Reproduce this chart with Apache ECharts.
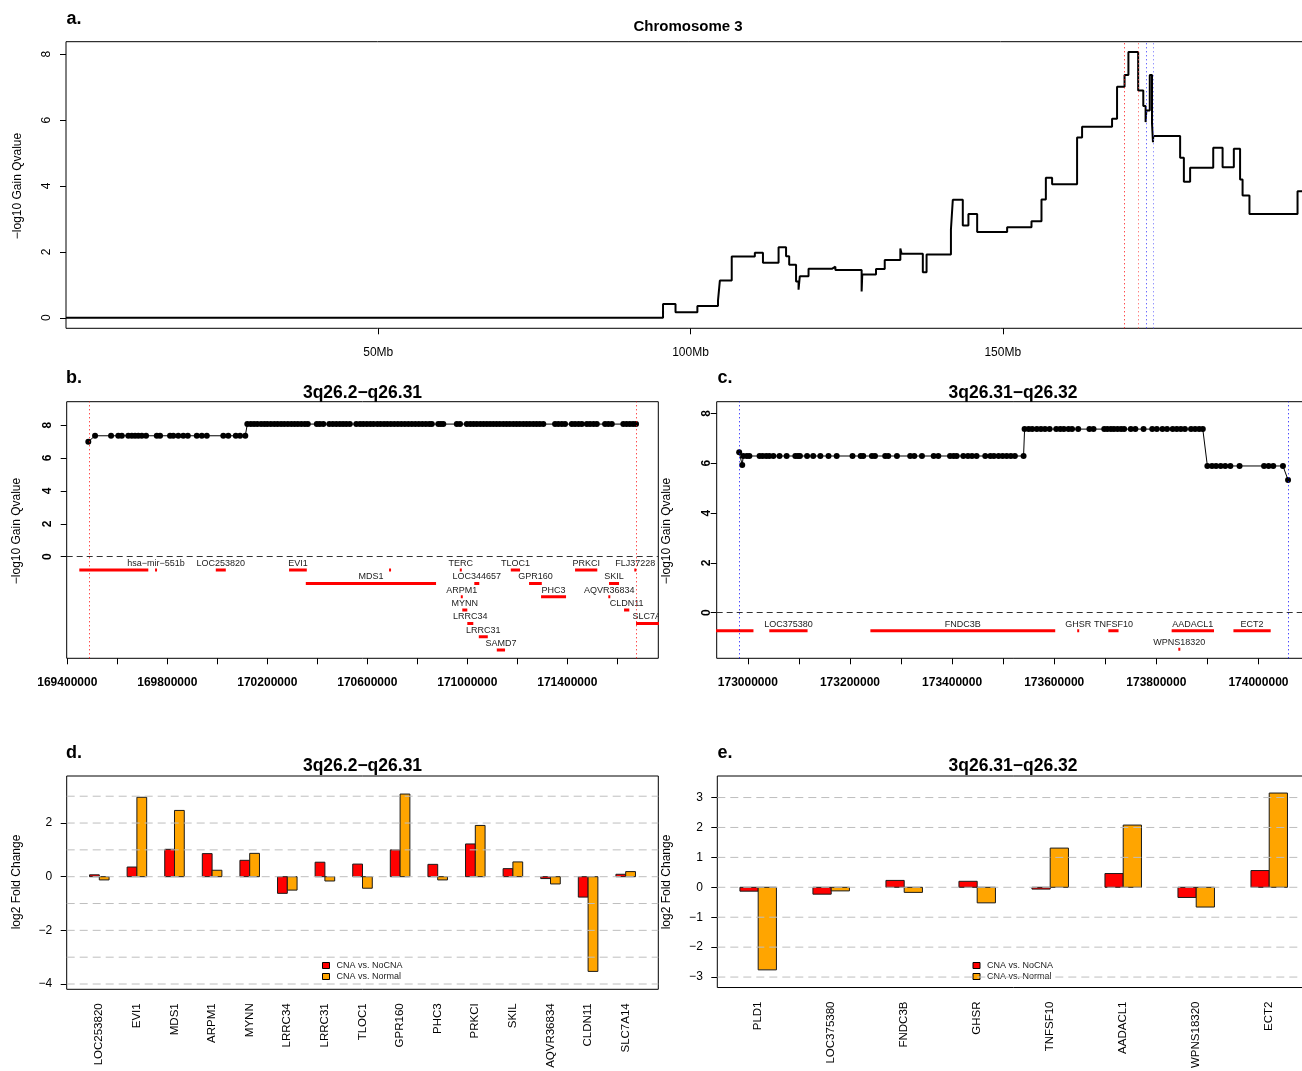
<!DOCTYPE html>
<html>
<head>
<meta charset="utf-8">
<title>Chromosome 3 gain</title>
<script src="https://cdn.jsdelivr.net/npm/echarts@6/dist/echarts.min.js"></script>
<style>
  html, body { margin: 0; padding: 0; background: #ffffff; }
  #frame { width: 1302px; height: 1071px; overflow: hidden; position: relative; }
  #main { width: 1320px; height: 1071px; position: absolute; left: 0; top: 0; }
</style>
</head>
<body>
<div id="frame"><div id="main"></div></div>
<script>
// ---------- a. whole chromosome: segment start (Mb) and -log10 gain q-value ----------
const chr3Segments = [
  [0, 0], [95.6, 0.42], [97.6, 0.17], [101.1, 0.36], [104.4, 0.52], [104.7, 1.13],
  [106.6, 1.86], [110.3, 1.97], [111.6, 1.67], [114.1, 2.14], [115.3, 1.87], [115.8, 1.61],
  [116.9, 1.10], [117.3, 0.85], [117.5, 1.26], [118.9, 1.49], [122.7, 1.55], [123.2, 1.45],
  [127.4, 0.80], [127.5, 1.31], [129.7, 1.48], [131.1, 1.75], [133.6, 2.10], [133.8, 1.94],
  [137.2, 1.38], [137.8, 1.92], [141.7, 2.68], [142.0, 3.58], [143.6, 2.80], [144.5, 3.15],
  [145.9, 2.60], [150.7, 2.75], [154.6, 2.93], [156.2, 3.59], [156.9, 4.25], [157.9, 4.05],
  [161.9, 5.47], [162.7, 5.80], [167.5, 6.04], [168.3, 7.01], [169.5, 7.37], [170.12, 8.07],
  [171.68, 6.90], [172.50, 6.43], [172.87, 5.94], [172.99, 6.29], [173.54, 7.37], [173.90, 5.89],
  [174.05, 5.33], [174.10, 5.52], [178.4, 4.86], [179.0, 4.13], [180.0, 4.55], [183.7, 5.16],
  [185.2, 4.57], [187.0, 5.13], [188.0, 4.20], [188.4, 3.71], [189.5, 3.15], [197.2, 3.84],
  [199.5, 3.84]
];
const chr3LengthMb = 199.5;
const chr3TickMb = [50, 100, 150];
const qTicks = [0, 2, 4, 6, 8];

// region bounds in kb
const regionB = [169486, 171675];
const regionC = [172983, 174058];

// ---------- b. 3q26.2-q26.31 probes: position (kb), -log10 q ----------
const probesB = [
  [169484, 6.99],
  [169511, 7.35], [169575, 7.35], [169604, 7.35], [169618, 7.35], [169644, 7.35], [169658, 7.35],
  [169671, 7.35], [169684, 7.35], [169698, 7.35], [169715, 7.35], [169758, 7.35], [169771, 7.35],
  [169811, 7.35], [169824, 7.35], [169844, 7.35], [169864, 7.35], [169882, 7.35], [169918, 7.35],
  [169938, 7.35], [169958, 7.35], [170024, 7.35], [170044, 7.35], [170074, 7.35], [170091, 7.35],
  [170112, 7.35],
  [170120, 8.06], [170134, 8.06], [170147, 8.06], [170160, 8.06], [170175, 8.06], [170188, 8.06],
  [170200, 8.06], [170214, 8.06], [170228, 8.06], [170241, 8.06], [170255, 8.06], [170268, 8.06],
  [170282, 8.06], [170296, 8.06], [170309, 8.06], [170322, 8.06], [170336, 8.06], [170350, 8.06],
  [170362, 8.06], [170398, 8.06], [170410, 8.06], [170424, 8.06], [170448, 8.06], [170462, 8.06],
  [170476, 8.06], [170490, 8.06], [170503, 8.06], [170516, 8.06], [170530, 8.06], [170556, 8.06],
  [170571, 8.06], [170584, 8.06], [170598, 8.06], [170612, 8.06], [170625, 8.06], [170640, 8.06],
  [170653, 8.06], [170667, 8.06], [170680, 8.06], [170694, 8.06], [170708, 8.06], [170722, 8.06],
  [170736, 8.06], [170750, 8.06], [170764, 8.06], [170778, 8.06], [170792, 8.06], [170806, 8.06],
  [170820, 8.06], [170834, 8.06], [170848, 8.06], [170858, 8.06], [170884, 8.06], [170894, 8.06],
  [170904, 8.06], [170958, 8.06], [170971, 8.06], [170998, 8.06], [171012, 8.06], [171025, 8.06],
  [171038, 8.06], [171052, 8.06], [171065, 8.06], [171078, 8.06], [171091, 8.06], [171104, 8.06],
  [171117, 8.06], [171130, 8.06], [171144, 8.06], [171157, 8.06], [171170, 8.06], [171184, 8.06],
  [171197, 8.06], [171210, 8.06], [171224, 8.06], [171237, 8.06], [171250, 8.06], [171264, 8.06],
  [171277, 8.06], [171290, 8.06], [171304, 8.06], [171351, 8.06], [171364, 8.06], [171378, 8.06],
  [171391, 8.06], [171418, 8.06], [171431, 8.06], [171445, 8.06], [171458, 8.06], [171478, 8.06],
  [171491, 8.06], [171505, 8.06], [171518, 8.06], [171551, 8.06], [171564, 8.06], [171578, 8.06],
  [171624, 8.06], [171637, 8.06], [171650, 8.06], [171663, 8.06], [171675, 8.06]
];
// genes: label, start (kb), end (kb), track row
const genesB = [
  ['', 169448, 169724, 1],
  ['hsa\u2212mir\u2212551b', 169754, 169756, 1],
  ['LOC253820', 169994, 170034, 1],
  ['EVI1', 170287, 170358, 1],
  ['MDS1', 170354, 170875, 2],
  ['', 170690, 170692, 1],
  ['TERC', 170973, 170975, 1],
  ['LOC344657', 171028, 171048, 2],
  ['ARPM1', 170977, 170979, 3],
  ['MYNN', 170980, 171000, 4],
  ['LRRC34', 171000, 171024, 5],
  ['LRRC31', 171046, 171082, 6],
  ['SAMD7', 171118, 171151, 7],
  ['TLOC1', 171174, 171211, 1],
  ['GPR160', 171247, 171298, 2],
  ['PHC3', 171295, 171395, 3],
  ['PRKCI', 171431, 171520, 1],
  ['SKIL', 171567, 171607, 2],
  ['AQVR36834', 171567, 171569, 3],
  ['CLDN11', 171627, 171648, 4],
  ['FLJ37228', 171671, 171673, 1],
  ['SLC7A14', 171675, 171800, 5]
];
const ticksB = [169400000, 169600000, 169800000, 170000000, 170200000, 170400000,
  170600000, 170800000, 171000000, 171200000, 171400000, 171600000];
const labelsB = [169400000, 169800000, 170200000, 170600000, 171000000, 171400000];

// ---------- c. 3q26.31-q26.32 probes ----------
const probesC = [
  [172983, 6.44], [172989, 5.93],
  [172991, 6.29], [172998, 6.29], [173003, 6.29], [173023, 6.29], [173029, 6.29], [173036, 6.29],
  [173042, 6.29], [173050, 6.29], [173062, 6.29], [173076, 6.29], [173093, 6.29], [173098, 6.29],
  [173102, 6.29], [173116, 6.29], [173128, 6.29], [173142, 6.29], [173158, 6.29], [173174, 6.29],
  [173205, 6.29], [173221, 6.29], [173226, 6.29], [173243, 6.29], [173249, 6.29], [173269, 6.29],
  [173275, 6.29], [173292, 6.29], [173318, 6.29], [173326, 6.29], [173341, 6.29], [173364, 6.29],
  [173373, 6.29], [173396, 6.29], [173403, 6.29], [173409, 6.29], [173422, 6.29], [173431, 6.29],
  [173439, 6.29], [173448, 6.29], [173465, 6.29], [173475, 6.29], [173482, 6.29], [173491, 6.29],
  [173499, 6.29], [173507, 6.29], [173515, 6.29], [173523, 6.29], [173540, 6.29],
  [173542, 7.37], [173550, 7.37], [173557, 7.37], [173566, 7.37], [173574, 7.37], [173582, 7.37],
  [173591, 7.37], [173604, 7.37], [173612, 7.37], [173619, 7.37], [173628, 7.37], [173635, 7.37],
  [173647, 7.37], [173669, 7.37], [173677, 7.37], [173698, 7.37], [173704, 7.37], [173711, 7.37],
  [173717, 7.37], [173724, 7.37], [173731, 7.37], [173737, 7.37], [173750, 7.37], [173759, 7.37],
  [173775, 7.37], [173792, 7.37], [173801, 7.37], [173812, 7.37], [173821, 7.37], [173832, 7.37],
  [173840, 7.37], [173848, 7.37], [173856, 7.37], [173868, 7.37], [173876, 7.37], [173884, 7.37],
  [173891, 7.37],
  [173900, 5.89], [173909, 5.89], [173917, 5.89], [173926, 5.89], [173935, 5.89], [173945, 5.89],
  [173963, 5.89], [174011, 5.89], [174020, 5.89], [174029, 5.89], [174048, 5.89],
  [174058, 5.33]
];
const genesC = [
  ['', 172930, 173011, 1],
  ['LOC375380', 173042, 173117, 1],
  ['FNDC3B', 173240, 173602, 1],
  ['GHSR', 173646, 173648, 1],
  ['TNFSF10', 173706, 173726, 1],
  ['AADACL1', 173830, 173913, 1],
  ['WPNS18320', 173844, 173846, 2],
  ['ECT2', 173951, 174024, 1]
];
const ticksC = [173000000, 173100000, 173200000, 173300000, 173400000, 173500000,
  173600000, 173700000, 173800000, 173900000, 174000000];
const labelsC = [173000000, 173200000, 173400000, 173600000, 173800000, 174000000];

// ---------- d. / e. log2 fold change per gene ----------
const genesD = ['LOC253820', 'EVI1', 'MDS1', 'ARPM1', 'MYNN', 'LRRC34', 'LRRC31', 'TLOC1',
  'GPR160', 'PHC3', 'PRKCI', 'SKIL', 'AQVR36834', 'CLDN11', 'SLC7A14'];
const cnaVsNoCnaD = [0.07, 0.36, 1.02, 0.86, 0.61, -0.62, 0.54, 0.47, 1.00, 0.46, 1.22, 0.30, -0.07, -0.76, 0.09];
const cnaVsNormalD = [-0.12, 2.96, 2.47, 0.24, 0.87, -0.50, -0.16, -0.43, 3.08, -0.12, 1.91, 0.55, -0.27, -3.53, 0.19];
const fcTicksD = [-4, -2, 0, 2];
const fcGridD = [-4, -3, -2, -1, 0, 1, 2, 3];

const genesE = ['PLD1', 'LOC375380', 'FNDC3B', 'GHSR', 'TNFSF10', 'AADACL1', 'WPNS18320', 'ECT2'];
const cnaVsNoCnaE = [-0.13, -0.23, 0.23, 0.20, -0.06, 0.46, -0.34, 0.56];
const cnaVsNormalE = [-2.76, -0.12, -0.17, -0.52, 1.31, 2.08, -0.66, 3.15];
const fcTicksE = [-3, -2, -1, 0, 1, 2, 3];
const fcGridE = [-3, -2, -1, 0, 1, 2, 3];

const seriesNames = ['CNA vs. NoCNA', 'CNA vs. Normal'];

// ---------- drawing ----------
const FAMILY = '"Liberation Sans", Arial, Helvetica, sans-serif';
const RED = '#ff0000';
const ORANGE = '#ffa500';
const minus = v => (v < 0 ? '\u2212' + Math.abs(v) : String(v));

// track rows below the zero line, in axis units
const trackB = [-0.81, -1.62, -2.43, -3.24, -4.05, -4.86, -5.67];
const trackC = [-0.72, -1.47];

function frameGrid(left, top, width, height) {
  return { left, top, width, height, show: true, borderColor: '#000', borderWidth: 1,
    backgroundColor: 'transparent', containLabel: false };
}

function valueAxis(gridIndex, min, max, extra) {
  return Object.assign({
    type: 'value', gridIndex, min, max, scale: true,
    axisLine: { show: false, onZero: false },
    splitLine: { show: false },
    axisTick: { show: false },
    axisLabel: { show: false }
  }, extra);
}

function tickSet(values, length) {
  return { show: true, customValues: values, length, lineStyle: { color: '#000', width: 1 } };
}

function labelSet(values, opts) {
  return Object.assign({ show: true, customValues: values, color: '#000', fontFamily: FAMILY }, opts);
}

function geneRenderer(genes) {
  return function (params, api) {
    const s = api.coord([api.value(0), api.value(2)]);
    const e = api.coord([api.value(1), api.value(2)]);
    let x0 = s[0], x1 = e[0];
    if (x1 - x0 < 2) { const m = (x0 + x1) / 2; x0 = m - 1; x1 = m + 1; }
    const name = genes[params.dataIndex][0];
    const kids = [{ type: 'rect', shape: { x: x0, y: s[1] - 1.5, width: x1 - x0, height: 3 },
      style: { fill: RED } }];
    if (name) {
      kids.push({ type: 'text', x: (x0 + x1) / 2, y: s[1] - 6.5,
        style: { text: name, fill: '#222', font: '9px ' + FAMILY,
          textAlign: 'center', textVerticalAlign: 'middle', align: 'center', verticalAlign: 'middle' } });
    }
    return { type: 'group', children: kids };
  };
}

function barRenderer(offset, width, color) {
  return function (params, api) {
    const p0 = api.coord([api.value(0) + offset, 0]);
    const p1 = api.coord([api.value(0) + offset + width, api.value(1)]);
    return { type: 'rect',
      shape: { x: p0[0], y: Math.min(p0[1], p1[1]), width: p1[0] - p0[0], height: Math.abs(p1[1] - p0[1]) },
      style: { fill: color, stroke: '#1a1a1a', lineWidth: 1 } };
  };
}

function gridLineRenderer(params, api) {
  const y = api.coord([0, api.value(0)])[1];
  const cs = params.coordSys;
  return { type: 'line', shape: { x1: cs.x, y1: y, x2: cs.x + cs.width, y2: y },
    style: { stroke: '#bebebe', lineWidth: 1, lineDash: [8, 5] } };
}

const dotted = (value, color) => ({ xAxis: value, lineStyle: { color, type: [1, 3], width: 1 } });

const option = {
  animation: false,
  backgroundColor: '#ffffff',
  textStyle: { fontFamily: FAMILY },
  grid: [
    frameGrid(66, 41.7, 1245.9, 286.6),
    frameGrid(66.7, 401.7, 591.6, 256.6),
    frameGrid(716.7, 401.7, 592.8, 256.6),
    frameGrid(66.7, 776, 591.6, 213.3),
    frameGrid(717.3, 776, 592.8, 213.3)
  ],
  xAxis: [
    valueAxis(0, 0, chr3LengthMb, {
      axisTick: tickSet(chr3TickMb, 6),
      axisLabel: labelSet(chr3TickMb, { fontSize: 12, margin: 18, formatter: v => v + 'Mb' })
    }),
    valueAxis(1, 169397600, 171764000, {
      axisTick: tickSet(ticksB, 6),
      axisLabel: labelSet(labelsB, { fontSize: 12, fontWeight: 'bold', margin: 18,
        formatter: v => String(Math.round(v)) })
    }),
    valueAxis(2, 172939000, 174100000, {
      axisTick: tickSet(ticksC, 6),
      axisLabel: labelSet(labelsC, { fontSize: 12, fontWeight: 'bold', margin: 18,
        formatter: v => String(Math.round(v)) })
    }),
    valueAxis(3, 0.133, 15.867, {
      axisLabel: labelSet(genesD.map((g, i) => i + 1), { fontSize: 11.5, rotate: 90, margin: 14,
        formatter: v => genesD[Math.round(v) - 1] })
    }),
    valueAxis(4, 0.44, 8.56, {
      axisLabel: labelSet(genesE.map((g, i) => i + 1), { fontSize: 11.5, rotate: 90, margin: 14,
        formatter: v => genesE[Math.round(v) - 1] })
    })
  ],
  yAxis: [
    valueAxis(0, -0.32, 8.38, {
      axisTick: tickSet(qTicks, 6),
      axisLabel: labelSet(qTicks, { fontSize: 12, rotate: 90, margin: 13, formatter: minus })
    }),
    valueAxis(1, -6.17, 9.42, {
      axisTick: tickSet(qTicks, 6),
      axisLabel: labelSet(qTicks, { fontSize: 12, fontWeight: 'bold', rotate: 90, margin: 13, formatter: minus })
    }),
    valueAxis(2, -1.83, 8.47, {
      axisTick: tickSet(qTicks, 6),
      axisLabel: labelSet(qTicks, { fontSize: 12, fontWeight: 'bold', rotate: 90, margin: 4, formatter: minus })
    }),
    valueAxis(3, -4.197, 3.753, {
      axisTick: tickSet(fcTicksD, 6),
      axisLabel: labelSet(fcTicksD, { fontSize: 12, margin: 14.5, formatter: minus })
    }),
    valueAxis(4, -3.35, 3.72, {
      axisTick: tickSet(fcTicksE, 6),
      axisLabel: labelSet(fcTicksE, { fontSize: 12, margin: 14.5, formatter: minus })
    })
  ],
  legend: [
    { left: 322, top: 961, orient: 'vertical', itemWidth: 7, itemHeight: 6, itemGap: 2, padding: 0,
      icon: 'rect', selectedMode: false, data: seriesNames,
      itemStyle: { borderColor: '#000', borderWidth: 1 },
      textStyle: { fontSize: 9, color: '#222', fontFamily: FAMILY, padding: [0, 0, 0, 2] } },
    { left: 972.5, top: 961, orient: 'vertical', itemWidth: 7, itemHeight: 6, itemGap: 2, padding: 0,
      icon: 'rect', selectedMode: false, data: seriesNames,
      itemStyle: { borderColor: '#000', borderWidth: 1 },
      textStyle: { fontSize: 9, color: '#222', fontFamily: FAMILY, padding: [0, 0, 0, 2] } }
  ],
  series: [
    // a. chromosome-wide step line
    { type: 'line', xAxisIndex: 0, yAxisIndex: 0, step: 'end', symbol: 'none',
      data: chr3Segments, lineStyle: { color: '#000', width: 2 }, silent: true,
      markLine: { silent: true, symbol: 'none', label: { show: false },
        data: [dotted(regionB[0] / 1000, '#ff0000'), dotted(regionB[1] / 1000, '#ff5050'),
               dotted(regionC[0] / 1000, '#3030ff'), dotted(regionC[1] / 1000, '#6a6aff')] } },
    // b. probes
    { type: 'line', xAxisIndex: 1, yAxisIndex: 1, symbol: 'circle', symbolSize: 6, showAllSymbol: true,
      data: probesB.map(p => [p[0] * 1000, p[1]]), silent: true,
      lineStyle: { color: '#000', width: 1 }, itemStyle: { color: '#000' },
      markLine: { silent: true, symbol: 'none', label: { show: false },
        data: [{ yAxis: 0, lineStyle: { color: '#333', type: [6, 4], width: 1 } },
               dotted(regionB[0] * 1000, RED), dotted(regionB[1] * 1000, RED)] } },
    { type: 'custom', xAxisIndex: 1, yAxisIndex: 1, clip: true, silent: true,
      renderItem: geneRenderer(genesB), encode: { x: [0, 1], y: 2 },
      data: genesB.map(g => [g[1] * 1000, g[2] * 1000, trackB[g[3] - 1]]) },
    // c. probes
    { type: 'line', xAxisIndex: 2, yAxisIndex: 2, symbol: 'circle', symbolSize: 6, showAllSymbol: true,
      data: probesC.map(p => [p[0] * 1000, p[1]]), silent: true,
      lineStyle: { color: '#000', width: 1 }, itemStyle: { color: '#000' },
      markLine: { silent: true, symbol: 'none', label: { show: false },
        data: [{ yAxis: 0, lineStyle: { color: '#333', type: [6, 4], width: 1 } },
               dotted(regionC[0] * 1000, '#0000ff'), dotted(regionC[1] * 1000, '#0000ff')] } },
    { type: 'custom', xAxisIndex: 2, yAxisIndex: 2, clip: true, silent: true,
      renderItem: geneRenderer(genesC), encode: { x: [0, 1], y: 2 },
      data: genesC.map(g => [g[1] * 1000, g[2] * 1000, trackC[g[3] - 1]]) },
    // d. fold change bars
    { type: 'custom', name: seriesNames[0], xAxisIndex: 3, yAxisIndex: 3, silent: true,
      itemStyle: { color: RED }, renderItem: barRenderer(-0.26, 0.26, RED), encode: { x: 0, y: 1 },
      data: cnaVsNoCnaD.map((v, i) => [i + 1, v]) },
    { type: 'custom', name: seriesNames[1], xAxisIndex: 3, yAxisIndex: 3, silent: true,
      itemStyle: { color: ORANGE }, renderItem: barRenderer(0, 0.26, ORANGE), encode: { x: 0, y: 1 },
      data: cnaVsNormalD.map((v, i) => [i + 1, v]) },
    { type: 'custom', xAxisIndex: 3, yAxisIndex: 3, silent: true, z: 4,
      renderItem: gridLineRenderer, encode: { y: 0 }, data: fcGridD.map(v => [v]) },
    // e. fold change bars
    { type: 'custom', name: seriesNames[0], xAxisIndex: 4, yAxisIndex: 4, silent: true,
      itemStyle: { color: RED }, renderItem: barRenderer(-0.25, 0.25, RED), encode: { x: 0, y: 1 },
      data: cnaVsNoCnaE.map((v, i) => [i + 1, v]) },
    { type: 'custom', name: seriesNames[1], xAxisIndex: 4, yAxisIndex: 4, silent: true,
      itemStyle: { color: ORANGE }, renderItem: barRenderer(0, 0.25, ORANGE), encode: { x: 0, y: 1 },
      data: cnaVsNormalE.map((v, i) => [i + 1, v]) },
    { type: 'custom', xAxisIndex: 4, yAxisIndex: 4, silent: true, z: 4,
      renderItem: gridLineRenderer, encode: { y: 0 }, data: fcGridE.map(v => [v]) }
  ],
  graphic: { elements: [] }
};

function label(text, x, y, font, rotation) {
  return { type: 'text', x, y, rotation: rotation || 0, silent: true,
    style: { text, font: font + ' ' + FAMILY, fill: '#000',
      textAlign: 'center', textVerticalAlign: 'middle', align: 'center', verticalAlign: 'middle' } };
}
const QLABEL = '\u2212log10 Gain Qvalue';
const FCLABEL = 'log2 Fold Change';
option.graphic.elements = [
  label('a.', 74, 19, 'bold 18px'),
  label('Chromosome 3', 688, 27, 'bold 15px'),
  label(QLABEL, 17.5, 186, '12px', Math.PI / 2),
  label('b.', 74, 378, 'bold 18px'),
  label('3q26.2\u2212q26.31', 362.5, 393, 'bold 17.5px'),
  label(QLABEL, 16.5, 531, '12px', Math.PI / 2),
  label('c.', 725, 378, 'bold 18px'),
  label('3q26.31\u2212q26.32', 1013, 393, 'bold 17.5px'),
  label(QLABEL, 666.5, 531, '12px', Math.PI / 2),
  label('d.', 74, 753, 'bold 18px'),
  label('3q26.2\u2212q26.31', 362.5, 766.5, 'bold 17.5px'),
  label(FCLABEL, 16.5, 882, '12px', Math.PI / 2),
  label('e.', 725, 753, 'bold 18px'),
  label('3q26.31\u2212q26.32', 1013, 766.5, 'bold 17.5px'),
  label(FCLABEL, 666.5, 882, '12px', Math.PI / 2)
];

const chart = echarts.init(document.getElementById('main'), null, { renderer: 'canvas' });
chart.setOption(option);
</script>
</body>
</html>
